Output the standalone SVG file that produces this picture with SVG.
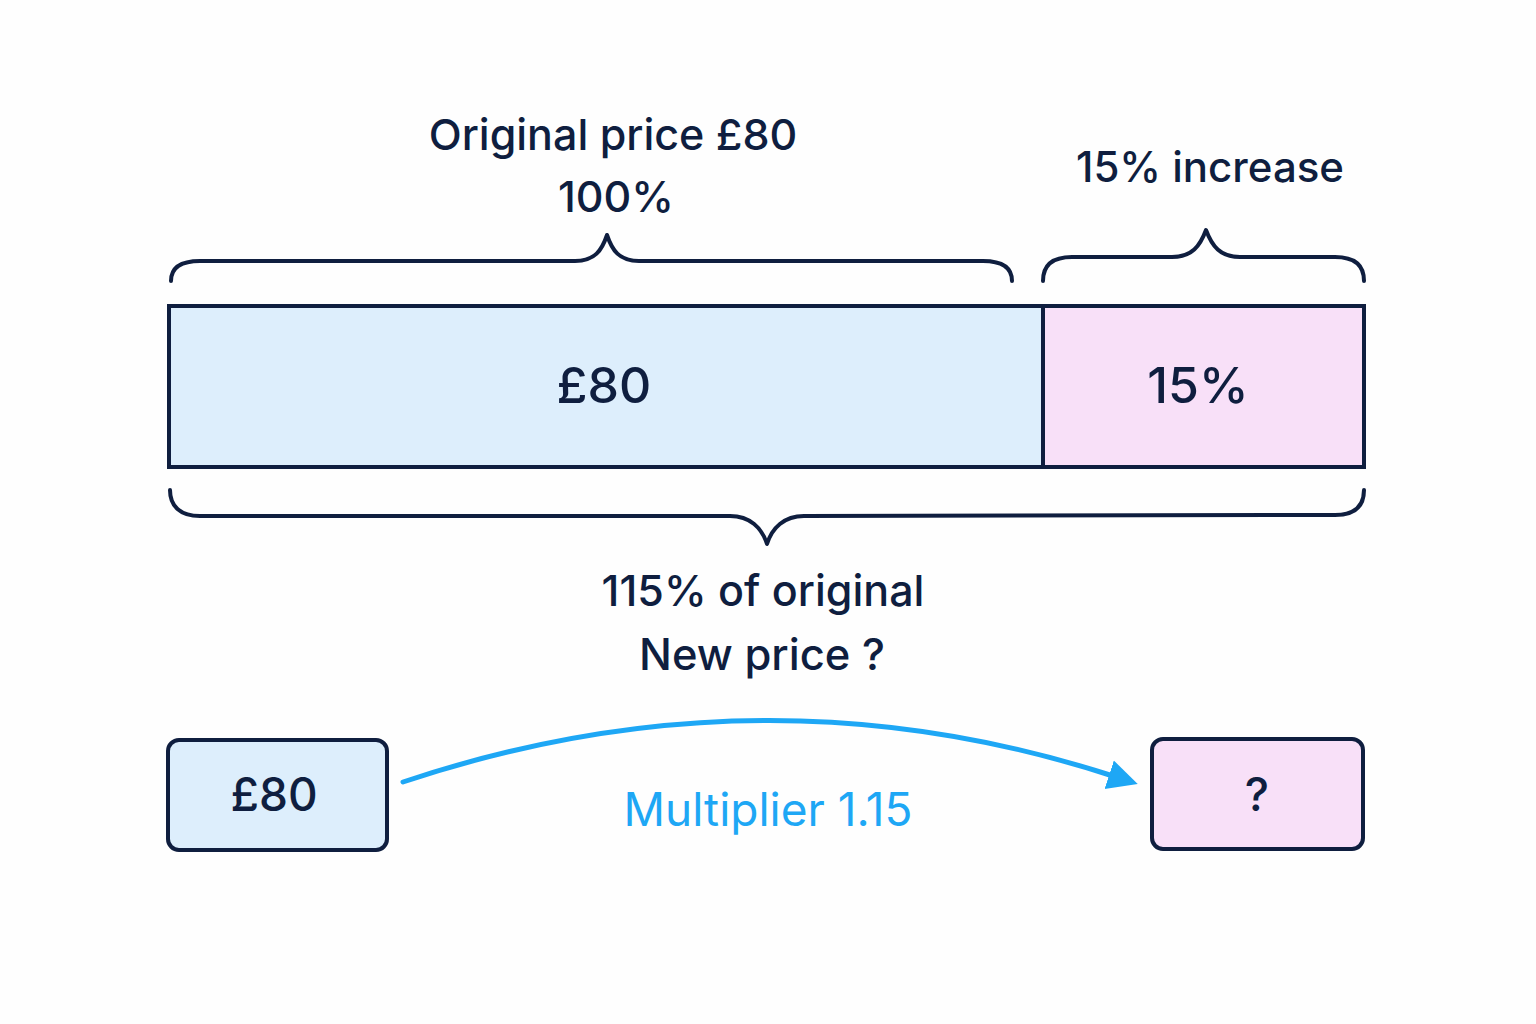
<svg xmlns="http://www.w3.org/2000/svg" width="1536" height="1024" viewBox="0 0 1536 1024">
<defs>
<style>
.t{font-family:Inter,"Open Sans","Liberation Sans",sans-serif;fill:#0f1e3f;text-anchor:middle;font-weight:500}
.brace{fill:none;stroke:#0f1e3f;stroke-width:4;stroke-linecap:round;stroke-linejoin:round}
.box{stroke:#0f1e3f;stroke-width:4}
.blue{fill:#ddeefc}
.pink{fill:#f8e0f8}
</style>
<marker id="ah" markerUnits="userSpaceOnUse" viewBox="0 0 32 32" markerWidth="32" markerHeight="32" refX="4" refY="16" orient="auto">
<path d="M0,1 L30,16 L0,31 Z" fill="#1ea7f5"/>
</marker>
</defs>
<rect width="1536" height="1024" fill="#fefefe"/>
<g id="label-original">
<text class="t" x="613" y="150" font-size="43">Original price £80</text>
<text class="t" x="616" y="212" font-size="43">100%</text>
</g>
<g id="label-increase">
<text class="t" x="1210" y="182" font-size="42">15% increase</text>
</g>
<g id="braces">
<path class="brace" d="M171,281 C171,268 180,261 200,261 L575,261 C595,261 602,250 607,235 C612,250 619,261 639,261 L983,261 C1003,261 1012,268 1012,281"/>
<path class="brace" d="M1043,281 C1043,266 1052,257 1072,257 L1172,257 C1192,257 1200,246 1206,230 C1212,246 1220,257 1240,257 L1335,257 C1355,257 1364,266 1364,281"/>
<path class="brace" d="M170,490 C170,506 180,516 200,516 L730,516 C750,516 762,528 767,544 C772,528 784,516 804,516 L1335,515 C1355,515 1364,506 1364,490"/>
</g>
<g id="bar-original">
<rect class="box blue" x="169" y="306" width="874" height="161"/>
<text class="t" x="604" y="403" font-size="50">£80</text>
</g>
<g id="bar-increase">
<rect class="box pink" x="1043" y="306" width="321" height="161"/>
<text class="t" x="1198" y="403" font-size="50">15%</text>
</g>
<g id="label-total">
<text class="t" x="763" y="606" font-size="43">115% of original</text>
<text class="t" x="762" y="670" font-size="43.5">New price ?</text>
</g>
<g id="box-start">
<rect class="box blue" x="168" y="740" width="219" height="110" rx="11"/>
<text class="t" x="274" y="811" font-size="46">£80</text>
</g>
<g id="box-end">
<rect class="box pink" x="1152" y="739" width="211" height="110" rx="11"/>
<text class="t" x="1257" y="811" font-size="46">?</text>
</g>
<g id="connectors">
<path d="M403,782 Q762,662 1113,776" fill="none" stroke="#1ea7f5" stroke-width="5" stroke-linecap="round" marker-end="url(#ah)"/>
<text class="t" x="768" y="826" font-size="46" style="fill:#1ea7f5;font-weight:400">Multiplier 1.15</text>
</g>
</svg>
